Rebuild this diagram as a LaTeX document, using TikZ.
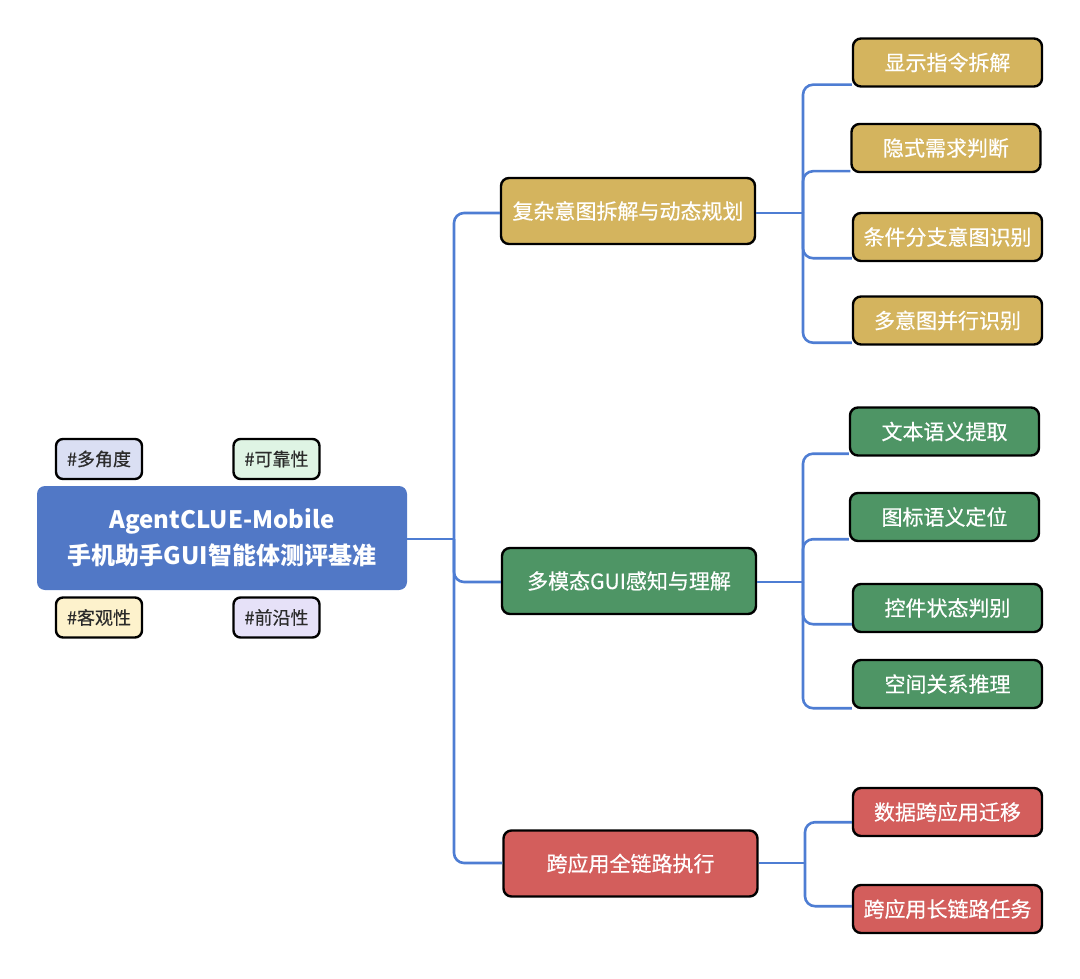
\documentclass[tikz,border=0pt]{standalone}
\usepackage{fontspec}
\setmainfont{Noto Sans CJK SC}
\newfontfamily\medfont{Noto Sans CJK SC}[FakeBold=0.5]
\usetikzlibrary{calc}
\definecolor{rootblue}{HTML}{5178C6}
\definecolor{gold}{HTML}{D4B45E}
\definecolor{leafgreen}{HTML}{4E9565}
\definecolor{leafred}{HTML}{D35E5C}
\definecolor{linkblue}{HTML}{4E7DD3}
\definecolor{tagA}{HTML}{DADFF3}
\definecolor{tagB}{HTML}{DFF4E4}
\definecolor{tagC}{HTML}{FDF2CC}
\definecolor{tagD}{HTML}{E6E1F8}
\definecolor{tagtext}{HTML}{2B2B2B}
\tikzset{
  rootbox/.style={fill=rootblue, rounded corners=8pt, minimum width=370pt, minimum height=104pt,
    text=white, font=\fontsize{24}{36}\selectfont\bfseries, align=center, inner sep=0pt},
  tagbox/.style={draw=black, line width=2.4pt, rounded corners=7pt, minimum width=86pt, minimum height=40pt,
    text=tagtext, font=\fontsize{18}{20}\selectfont\medfont, inner sep=0pt},
  branchbox/.style={draw=black, line width=2.4pt, rounded corners=8pt, minimum width=254pt, minimum height=66pt,
    text=white, font=\fontsize{21}{24}\selectfont\medfont, inner sep=0pt},
  leafbox/.style={draw=black, line width=2.4pt, rounded corners=8pt, minimum width=189pt, minimum height=48pt,
    text=white, font=\fontsize{21}{24}\selectfont\medfont, inner sep=0pt},
  link/.style={draw=linkblue, line width=2.6pt, rounded corners=10pt},
}
\begin{document}
\begin{tikzpicture}[x=1pt,y=-1pt]
\path[use as bounding box] (0,0) rectangle (1080,979);

\coordinate (j0) at (454,539);
\coordinate (j1) at (803,213);
\coordinate (j2) at (803,582);
\coordinate (j3) at (805,863);

% nodes
\node[rootbox] (root) at (222,538) {AgentCLUE-Mobile\\手机助手GUI智能体测评基准};

\node[tagbox, fill=tagA] (t1) at (99,459) {\#多角度};
\node[tagbox, fill=tagB] (t2) at (276.5,459) {\#可靠性};
\node[tagbox, fill=tagC] (t3) at (99,617.5) {\#客观性};
\node[tagbox, fill=tagD] (t4) at (276.5,617.5) {\#前沿性};

\node[branchbox, fill=gold] (b1) at (628,211) {复杂意图拆解与动态规划};
\node[branchbox, fill=leafgreen] (b2) at (629,581) {多模态GUI感知与理解};
\node[branchbox, fill=leafred] (b3) at (630.5,863.5) {跨应用全链路执行};

\node[leafbox, fill=gold] (l11) at (947.5,62.5) {显示指令拆解};
\node[leafbox, fill=gold] (l12) at (946,148) {隐式需求判断};
\node[leafbox, fill=gold] (l13) at (947.5,237) {条件分支意图识别};
\node[leafbox, fill=gold] (l14) at (947.5,320.5) {多意图并行识别};

\node[leafbox, fill=leafgreen] (l21) at (944.5,431.5) {文本语义提取};
\node[leafbox, fill=leafgreen] (l22) at (944.5,517) {图标语义定位};
\node[leafbox, fill=leafgreen] (l23) at (947.5,608) {控件状态判别};
\node[leafbox, fill=leafgreen] (l24) at (947.5,684) {空间关系推理};

\node[leafbox, fill=leafred] (l31) at (947.5,812) {数据跨应用迁移};
\node[leafbox, fill=leafred] (l32) at (947.5,909) {跨应用长链路任务};

% root to branches
\draw[link] (root.east |- j0) -- (j0);
\draw[link] (j0) |- (b1.west |- j1);
\draw[link] (j0) |- (b2.west |- j2);
\draw[link] (j0) |- (b3.west |- j3);

% branch 1
\draw[link] (b1.east |- j1) -- (j1);
\draw[link] (j1) |- ([yshift=3pt]l11.south west);
\draw[link] (j1) |- ([yshift=2pt]l12.south west);
\draw[link] (j1) |- ([yshift=4pt]l13.south west);
\draw[link] (j1) |- ([yshift=3pt]l14.south west);

% branch 2
\draw[link] (b2.east |- j2) -- (j2);
\draw[link] (j2) |- ([yshift=3pt]l21.south west);
\draw[link] (j2) |- ([yshift=3pt]l22.south west);
\draw[link] (j2) |- ([yshift=9pt]l23.south west);
\draw[link] (j2) |- ([yshift=1pt]l24.south west);

% branch 3
\draw[link] (b3.east |- j3) -- (j3);
\draw[link] (j3) |- ([yshift=15pt]l31.south west);
\draw[link] (j3) |- ([yshift=28pt]l32.south west);
\end{tikzpicture}
\end{document}
